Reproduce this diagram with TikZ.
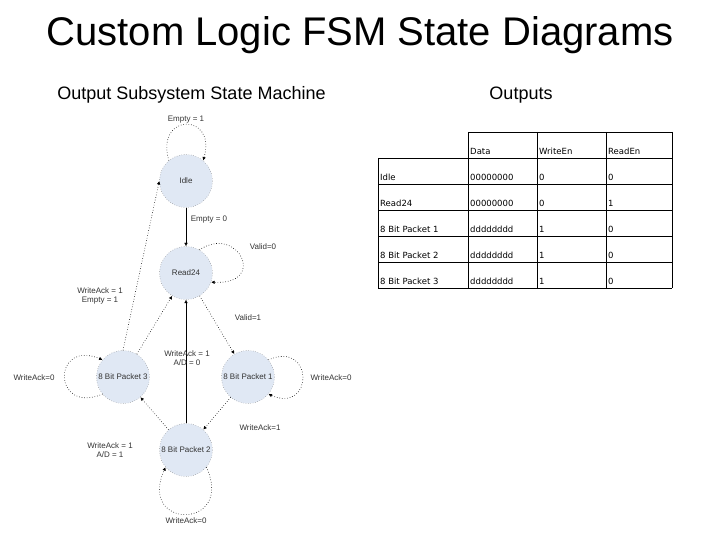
\documentclass[tikz,border=0pt]{standalone}
\usepackage{fontspec}
\setmainfont{Liberation Sans}
\newfontfamily\tablefont{DejaVu Sans}
\usetikzlibrary{arrows.meta}
\definecolor{stfill}{RGB}{224,232,244}
\definecolor{stline}{RGB}{90,90,90}

\begin{document}
\begin{tikzpicture}[x=1pt, y=1pt, font=\fontsize{8}{9}\selectfont,
  state/.style={circle, fill=stfill, draw=stline, dotted, minimum size=53pt, inner sep=0pt, text=black!80},
  trans/.style={dotted, semithick, -{Latex[length=3.5pt, width=3.5pt]}},
  hard/.style={thin, -{Latex[length=3.5pt, width=3.5pt]}},
  lbl/.style={align=center, text=black!80, inner sep=0pt},
  tbl/.style={thin, black},
  cell/.style={anchor=base west, inner sep=0pt, font=\tablefont\fontsize{8.5}{10}\selectfont}]

\useasboundingbox (0,0) rectangle (720,540);

% headings
\node[anchor=base, font=\fontsize{40}{44}\selectfont] at (360,494) (title) {Custom Logic FSM State Diagrams};
\node[anchor=base, font=\fontsize{18}{20}\selectfont] at (191.5,440) (fsmhead) {Output Subsystem State Machine};
\node[anchor=base, font=\fontsize{18}{20}\selectfont] at (521,440) (outhead) {Outputs};

% states
\node[state] at (186,359) (idle) {Idle};
\node[state] at (186,267) (read) {Read24};
\node[state] at (248,163) (pk1) {8 Bit Packet 1};
\node[state] at (186,90) (pk2) {8 Bit Packet 2};
\node[state] at (123,163) (pk3) {8 Bit Packet 3};

% self loops
\draw[trans] (idle.130) .. controls +(-14,48) and +(14,48) .. (idle.50);
\node[lbl] at (186,420) (l-empty1) {Empty = 1};
\draw[trans] (read.60) .. controls (238,316) and (268,255) .. (read.-20);
\node[lbl] at (263,293) (l-valid0) {Valid=0};
\draw[trans] (pk1.40) .. controls (314,200) and (314,126) .. (pk1.-40);
\node[lbl] at (331,162) (l-wa0a) {WriteAck=0};
\draw[trans] (pk2.-40) .. controls (235,10) and (137,10) .. (pk2.-140);
\node[lbl] at (186,19) (l-wa0b) {WriteAck=0};
\draw[trans] (pk3.-140) .. controls (52,125) and (52,201) .. (pk3.140);
\node[lbl] at (34,162) (l-wa0c) {WriteAck=0};

% transitions between states
\draw[hard] (idle) -- (read);
\node[lbl] at (209,320) (l-empty0) {Empty = 0};
\draw[trans] (read) -- (pk1);
\node[lbl] at (248,222) (l-valid1) {Valid=1};
\draw[trans] (pk1) -- (pk2);
\node[lbl] at (260,112) (l-wa1) {WriteAck=1};
\draw[trans] (pk2) -- (pk3);
\node[lbl] at (110,90) (l-wa1ad1) {WriteAck = 1\\ A/D = 1};
\draw[hard] (pk2) -- (read);
\node[lbl] at (187,182) (l-wa1ad0) {WriteAck = 1\\ A/D = 0};
\draw[trans] (pk3) -- (read);
\draw[trans] (pk3.north) -- (idle.west);
\node[lbl] at (100,244) (l-wa1e1) {WriteAck = 1\\ Empty = 1};

% output table
\draw[tbl] (468,408) -- (672,408);
\foreach \y in {382,356,330,304,278,252}
  \draw[tbl] (378,\y) -- (672,\y);
\draw[tbl] (378,382) -- (378,252);
\foreach \x in {468,537,606,672}
  \draw[tbl] (\x,408) -- (\x,252);

\node[cell] at (470,385) (h-data) {Data};
\node[cell] at (539,385) (h-we) {WriteEn};
\node[cell] at (608,385) (h-re) {ReadEn};
\foreach \nm/\dat/\we/\re [count=\i] in {Idle/00000000/0/0, Read24/00000000/0/1,
    8 Bit Packet 1/dddddddd/1/0, 8 Bit Packet 2/dddddddd/1/0, 8 Bit Packet 3/dddddddd/1/0}{
  \node[cell] at (380,385-26*\i) (r\i-name) {\nm};
  \node[cell] at (470,385-26*\i) (r\i-data) {\dat};
  \node[cell] at (539,385-26*\i) (r\i-we) {\we};
  \node[cell] at (608,385-26*\i) (r\i-re) {\re};
}
\end{tikzpicture}
\end{document}
